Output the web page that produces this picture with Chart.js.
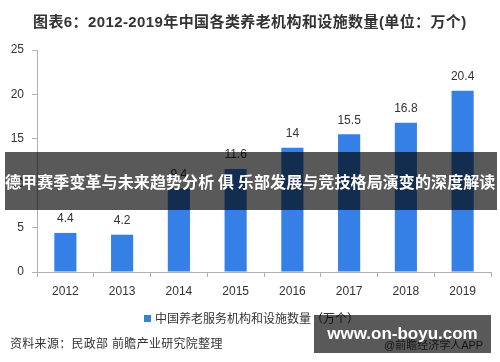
<!DOCTYPE html>
<html>
<head>
<meta charset="utf-8">
<script src="https://cdn.jsdelivr.net/npm/chart.js@4/dist/chart.umd.min.js"></script>
<style>
  html, body { margin: 0; padding: 0; background: #fff; }
  body { width: 500px; height: 362px; position: relative; overflow: hidden;
         font-family: "Liberation Sans", "Noto Sans CJK SC", sans-serif; color: #333; }
  #wrap { position: absolute; left: 0; top: 0; width: 500px; height: 362px; }
  .title { position: absolute; left: 33px; top: 10px; font-size: 15px; font-weight: bold; color: #333; white-space: nowrap; letter-spacing: 0.4px; }
  .legend { position: absolute; left: 144px; top: 309px; font-size: 12px; color: #333; white-space: nowrap; }
  .legend i { display: inline-block; width: 7px; height: 7px; background: #3480e6; margin-right: 4px; vertical-align: 1px; }
  .source { position: absolute; left: 10px; top: 334px; font-size: 12px; color: #333; letter-spacing: 0.3px; white-space: nowrap; }
  .app { position: absolute; left: 384px; top: 336px; font-size: 11px; color: #444; white-space: nowrap; }
  .band { position: absolute; left: 5px; top: 152px; width: 492px; height: 58px; background: rgba(0,0,0,0.65);
          color: #fff; font-size: 16px; font-weight: bold; line-height: 58px; white-space: pre; letter-spacing: 0.1px;
          font-family: "Noto Sans CJK SC", sans-serif; }
  .badge { position: absolute; left: 314px; top: 315px; width: 177px; height: 38px; background: rgba(0,0,0,0.65);
           color: #fff; font-size: 17px; font-weight: bold; line-height: 38px; text-align: center; }
</style>
</head>
<body>
<div id="wrap"><canvas id="chart" width="500" height="362"></canvas></div>
<div class="title">图表6：2012-2019年中国各类养老机构和设施数量(单位：万个)</div>
<div class="legend"><i></i>中国养老服务机构和设施数量（万个）</div>
<div class="source">资料来源：民政部 前瞻产业研究院整理</div>
<div class="app">@前瞻经济学人APP</div>
<div class="band">德甲赛季变革与未来趋势分析 俱 乐部发展与竞技格局演变的深度解读</div>
<div class="badge">www.on-boyu.com</div>
<script>
const years = ['2012', '2013', '2014', '2015', '2016', '2017', '2018', '2019'];
const counts = [4.4, 4.2, 9.4, 11.6, 14, 15.5, 16.8, 20.4];
const yTicks = [0, 5, 10, 15, 20, 25];

const bar_color = '#3480e6';
const axis_color = '#b0b0b0';
const text_color = '#333';

// value labels above each bar
const barLabels = {
    id: 'barLabels',
    afterDatasetsDraw(chart) {
        const ctx = chart.ctx;
        const meta = chart.getDatasetMeta(0);
        ctx.save();
        ctx.font = '12px "Liberation Sans", sans-serif';
        ctx.fillStyle = text_color;
        ctx.textAlign = 'center';
        ctx.textBaseline = 'bottom';
        meta.data.forEach((bar, i) => {
            ctx.fillText(String(counts[i]), bar.x, bar.y - 8);
        });
        ctx.restore();
    }
};

new Chart(document.getElementById('chart'), {
    type: 'bar',
    data: {
        labels: years,
        datasets: [{
            label: '中国养老服务机构和设施数量（万个）',
            data: counts,
            backgroundColor: bar_color,
            barPercentage: 0.78,
            categoryPercentage: 0.5
        }]
    },
    options: {
        responsive: false,
        animation: false,
        layout: { padding: { left: 0, top: 50, right: 9, bottom: 60 } },
        plugins: {
            legend: { display: false },
            tooltip: { enabled: false }
        },
        scales: {
            x: {
                afterFit: (s) => { s.height = 30; },
                grid: { drawOnChartArea: false, color: axis_color, tickLength: 5, offset: true },
                border: { color: axis_color },
                ticks: { color: text_color, font: { size: 12, family: '"Liberation Sans", sans-serif' }, padding: 7 }
            },
            y: {
                min: 0,
                max: 25,
                afterFit: (s) => { s.width = 37; },
                afterBuildTicks: (s) => { s.ticks = yTicks.map(v => ({ value: v })); },
                grid: { drawOnChartArea: false, color: axis_color, tickLength: 5 },
                border: { color: axis_color },
                ticks: { color: text_color, font: { size: 12, family: '"Liberation Sans", sans-serif' }, padding: 8 }
            }
        }
    },
    plugins: [barLabels]
});
</script>
</body>
</html>
